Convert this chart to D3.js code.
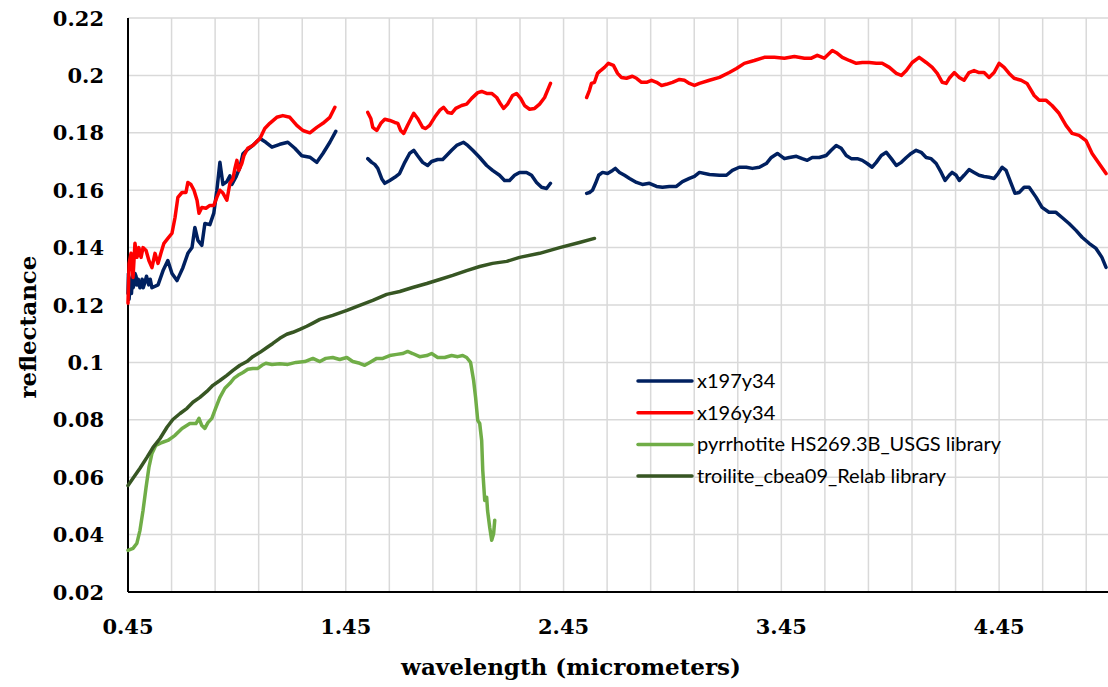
<!DOCTYPE html>
<html>
<head>
<meta charset="utf-8">
<script src="https://cdn.jsdelivr.net/npm/d3@7/dist/d3.min.js"></script>
<style>
  body { margin: 0; background: #fff; }
  .tick-label { font-family: "DejaVu Serif", serif; font-weight: bold; font-size: 21px; fill: #000; }
  .axis-title { font-family: "DejaVu Serif", serif; font-weight: bold; font-size: 23px; fill: #000; }
  .legend-text { font-family: Lato, "Open Sans", sans-serif; font-size: 20px; fill: #000; }
</style>
</head>
<body>
<div class="chart"></div>
<script>
// wavelength (micrometers), reflectance -- each series is split where the spectrum has gaps
var x197y34 = [
  [[0.450,0.124],[0.452,0.131],[0.455,0.122],[0.459,0.1275],[0.462,0.129],[0.466,0.124],[0.470,0.130],[0.473,0.126],
   [0.478,0.127],[0.482,0.131],[0.487,0.130],[0.492,0.127],[0.497,0.129],[0.505,0.126],[0.510,0.127],[0.515,0.129],
   [0.520,0.126],[0.528,0.128],[0.535,0.130],[0.545,0.127],[0.552,0.129],[0.560,0.126],[0.588,0.127],[0.611,0.132],
   [0.633,0.1355],[0.652,0.131],[0.675,0.1285],[0.702,0.133],[0.725,0.138],[0.744,0.140],[0.757,0.147],[0.771,0.1425],
   [0.789,0.1408],[0.803,0.1484],[0.826,0.148],[0.844,0.152],[0.858,0.160],[0.872,0.1697],[0.886,0.162],[0.904,0.163],
   [0.918,0.165],[0.927,0.162],[0.945,0.1645],[0.964,0.168],[0.978,0.1727],[0.996,0.174],[1.023,0.1756],[1.056,0.178],
   [1.083,0.1767],[1.111,0.175],[1.147,0.176],[1.184,0.1767],[1.216,0.1746],[1.248,0.172],[1.285,0.1715],[1.317,0.1697],
   [1.345,0.1728],[1.377,0.1767],[1.404,0.1805]],
  [[1.551,0.171],[1.569,0.1697],[1.583,0.169],[1.597,0.1676],[1.615,0.164],[1.629,0.1624],[1.652,0.1634],[1.675,0.1645],
   [1.697,0.1658],[1.721,0.1697],[1.743,0.1728],[1.762,0.1739],[1.780,0.172],[1.803,0.1697],[1.826,0.1686],[1.844,0.170],
   [1.872,0.1707],[1.895,0.1707],[1.913,0.1721],[1.936,0.1739],[1.959,0.1756],[1.991,0.1767],[2.010,0.1756],[2.033,0.1739],
   [2.065,0.1714],[2.097,0.1686],[2.124,0.1669],[2.156,0.1652],[2.179,0.1634],[2.202,0.1634],[2.225,0.1652],[2.248,0.1662],
   [2.280,0.1662],[2.303,0.1652],[2.326,0.1627],[2.349,0.161],[2.372,0.1606],[2.390,0.1624]],
  [[2.556,0.1589],[2.569,0.1592],[2.583,0.160],[2.597,0.1624],[2.611,0.1652],[2.629,0.1662],[2.652,0.1658],[2.675,0.1669],
   [2.688,0.1676],[2.707,0.1662],[2.730,0.1652],[2.753,0.1641],[2.785,0.1627],[2.812,0.162],[2.844,0.1624],[2.877,0.1613],
   [2.904,0.161],[2.936,0.1613],[2.968,0.1613],[2.996,0.163],[3.028,0.1641],[3.051,0.1648],[3.074,0.1662],[3.120,0.1655],
   [3.166,0.1652],[3.198,0.1652],[3.225,0.1669],[3.257,0.168],[3.289,0.168],[3.317,0.1676],[3.349,0.168],[3.381,0.1693],
   [3.404,0.1714],[3.432,0.1728],[3.464,0.171],[3.487,0.1714],[3.519,0.1718],[3.546,0.171],[3.569,0.1704],[3.592,0.1714],
   [3.624,0.1714],[3.656,0.1721],[3.679,0.1739],[3.702,0.1756],[3.725,0.1746],[3.748,0.1721],[3.771,0.171],[3.799,0.171],
   [3.822,0.1704],[3.844,0.1693],[3.867,0.168],[3.886,0.1697],[3.909,0.1721],[3.932,0.1732],[3.955,0.171],[3.978,0.1686],
   [4.001,0.1697],[4.024,0.1714],[4.046,0.1728],[4.069,0.1739],[4.092,0.1732],[4.115,0.1714],[4.138,0.171],[4.161,0.1693],
   [4.184,0.1662],[4.202,0.1634],[4.221,0.1652],[4.234,0.1662],[4.253,0.1652],[4.267,0.1634],[4.289,0.1652],[4.312,0.1672],
   [4.335,0.1662],[4.358,0.1652],[4.381,0.1648],[4.404,0.1645],[4.427,0.1641],[4.445,0.1658],[4.464,0.168],[4.482,0.1669],
   [4.505,0.1624],[4.523,0.1589],[4.542,0.1592],[4.565,0.161],[4.588,0.161],[4.620,0.1575],[4.647,0.154],[4.679,0.1523],
   [4.711,0.1523],[4.739,0.1505],[4.771,0.1484],[4.803,0.146],[4.831,0.1436],[4.863,0.1415],[4.895,0.1397],[4.922,0.1366],
   [4.941,0.1331]]
];

var x196y34 = [
  [[0.450,0.1206],[0.455,0.1345],[0.464,0.138],[0.473,0.1296],[0.482,0.1415],[0.491,0.1366],[0.500,0.140],[0.510,0.1366],
   [0.519,0.140],[0.533,0.139],[0.546,0.1355],[0.560,0.133],[0.574,0.138],[0.588,0.1345],[0.601,0.138],[0.615,0.1415],
   [0.633,0.1432],[0.652,0.145],[0.666,0.1505],[0.679,0.1575],[0.698,0.1592],[0.716,0.1592],[0.725,0.1627],[0.739,0.162],
   [0.753,0.160],[0.767,0.1565],[0.776,0.152],[0.789,0.154],[0.808,0.1537],[0.826,0.1547],[0.844,0.1547],[0.858,0.1575],
   [0.872,0.160],[0.886,0.159],[0.904,0.1565],[0.918,0.1624],[0.932,0.164],[0.941,0.1676],[0.950,0.1704],[0.959,0.1669],
   [0.973,0.1694],[0.982,0.172],[1.000,0.1746],[1.023,0.1756],[1.056,0.178],[1.078,0.1815],[1.101,0.1833],[1.133,0.1854],
   [1.161,0.186],[1.193,0.1854],[1.225,0.1826],[1.253,0.1808],[1.285,0.180],[1.317,0.1819],[1.345,0.1833],[1.377,0.1854],
   [1.400,0.1889]],
  [[1.551,0.1871],[1.565,0.185],[1.574,0.1819],[1.592,0.1808],[1.611,0.1833],[1.629,0.1847],[1.652,0.1843],[1.675,0.1836],
   [1.689,0.1833],[1.702,0.1808],[1.716,0.1798],[1.734,0.1826],[1.762,0.1868],[1.780,0.185],[1.803,0.1819],[1.817,0.1815],
   [1.835,0.1826],[1.858,0.1854],[1.881,0.1878],[1.899,0.1889],[1.918,0.1871],[1.936,0.1868],[1.955,0.1885],[1.982,0.1895],
   [2.005,0.190],[2.028,0.192],[2.056,0.194],[2.074,0.1944],[2.097,0.1937],[2.120,0.1937],[2.143,0.1923],[2.161,0.190],
   [2.175,0.1885],[2.193,0.190],[2.216,0.193],[2.234,0.1937],[2.253,0.192],[2.271,0.1895],[2.294,0.1882],[2.317,0.1885],
   [2.340,0.190],[2.363,0.1923],[2.390,0.1972]],
  [[2.556,0.1923],[2.569,0.1948],[2.578,0.1972],[2.592,0.1976],[2.606,0.2007],[2.620,0.2017],[2.638,0.2028],[2.656,0.2042],
   [2.679,0.2035],[2.698,0.2007],[2.716,0.1993],[2.739,0.199],[2.766,0.1997],[2.785,0.199],[2.808,0.1976],[2.831,0.1976],
   [2.854,0.1983],[2.877,0.1976],[2.900,0.1965],[2.922,0.1969],[2.950,0.1976],[2.982,0.1986],[3.005,0.1983],[3.028,0.1972],
   [3.051,0.1965],[3.074,0.1972],[3.120,0.1983],[3.166,0.1993],[3.211,0.201],[3.244,0.2024],[3.280,0.2042],[3.326,0.2052],
   [3.372,0.2063],[3.418,0.2063],[3.464,0.206],[3.510,0.2066],[3.556,0.206],[3.588,0.206],[3.615,0.207],[3.647,0.206],
   [3.684,0.2087],[3.707,0.2077],[3.730,0.2063],[3.762,0.2052],[3.794,0.2042],[3.822,0.2045],[3.854,0.2045],[3.886,0.2042],
   [3.913,0.2042],[3.946,0.2028],[3.978,0.2007],[4.001,0.200],[4.024,0.2017],[4.051,0.2045],[4.083,0.2063],[4.115,0.2045],
   [4.143,0.2028],[4.166,0.2007],[4.189,0.1976],[4.207,0.1972],[4.221,0.199],[4.244,0.201],[4.267,0.1993],[4.289,0.1983],
   [4.312,0.201],[4.335,0.2017],[4.358,0.201],[4.381,0.201],[4.404,0.1993],[4.427,0.201],[4.450,0.2042],[4.473,0.2028],
   [4.496,0.2007],[4.519,0.199],[4.551,0.1983],[4.578,0.1972],[4.611,0.193],[4.634,0.1913],[4.666,0.1913],[4.693,0.1895],
   [4.725,0.1868],[4.757,0.1826],[4.785,0.1798],[4.817,0.1791],[4.849,0.1773],[4.877,0.1728],[4.909,0.1693],[4.941,0.1658]]
];

var pyrrhotite = [
  [[0.450,0.0345],[0.473,0.0352],[0.491,0.037],[0.505,0.0415],[0.519,0.0484],[0.533,0.0565],[0.546,0.0634],[0.560,0.0683],
   [0.578,0.0711],[0.606,0.0721],[0.633,0.0728],[0.666,0.0746],[0.698,0.077],[0.734,0.0787],[0.762,0.0787],[0.776,0.0805],
   [0.789,0.078],[0.803,0.077],[0.817,0.079],[0.835,0.0805],[0.854,0.0843],[0.872,0.0878],[0.895,0.091],[0.918,0.0927],
   [0.936,0.0944],[0.955,0.0955],[0.978,0.0965],[1.000,0.0976],[1.023,0.0979],[1.046,0.0979],[1.065,0.099],[1.083,0.0997],
   [1.111,0.0993],[1.147,0.0995],[1.184,0.0993],[1.221,0.1],[1.262,0.1003],[1.299,0.1014],[1.331,0.1003],[1.358,0.1014],
   [1.390,0.1017],[1.422,0.101],[1.455,0.1017],[1.482,0.1003],[1.514,0.0997],[1.537,0.099],[1.560,0.1],[1.592,0.1014],
   [1.620,0.1014],[1.652,0.1024],[1.684,0.1028],[1.711,0.1031],[1.734,0.1038],[1.757,0.1031],[1.789,0.102],[1.822,0.1024],
   [1.844,0.1031],[1.872,0.1017],[1.904,0.1017],[1.936,0.1024],[1.964,0.102],[1.987,0.1024],[2.005,0.1017],[2.023,0.1],
   [2.037,0.0937],[2.046,0.0878],[2.056,0.0798],[2.065,0.0787],[2.074,0.0728],[2.079,0.0624],[2.088,0.0519],[2.097,0.053],
   [2.101,0.0484],[2.111,0.0425],[2.120,0.038],[2.129,0.0404],[2.134,0.045]]
];

var troilite = [
  [[0.450,0.0571],[0.473,0.0596],[0.505,0.0631],[0.537,0.0669],[0.565,0.0704],[0.597,0.0735],[0.629,0.0774],[0.656,0.0801],
   [0.689,0.0822],[0.721,0.084],[0.748,0.0861],[0.780,0.0878],[0.812,0.0899],[0.840,0.092],[0.872,0.0937],[0.904,0.0955],
   [0.932,0.0972],[0.964,0.099],[0.996,0.1003],[1.023,0.102],[1.056,0.1035],[1.088,0.1052],[1.115,0.1066],[1.147,0.1084],
   [1.179,0.1098],[1.207,0.1105],[1.239,0.1115],[1.271,0.1126],[1.299,0.1137],[1.331,0.115],[1.390,0.1164],[1.455,0.1181],
   [1.514,0.1199],[1.574,0.1216],[1.638,0.1237],[1.698,0.1247],[1.757,0.1261],[1.822,0.1275],[1.881,0.1289],[1.941,0.1303],
   [2.005,0.132],[2.065,0.1334],[2.124,0.1345],[2.189,0.1352],[2.248,0.1366],[2.340,0.138],[2.432,0.140],[2.523,0.1418],
   [2.592,0.1432]]
];

var seriesNames = ["x197y34", "x196y34", "pyrrhotite HS269.3B_USGS library", "troilite_cbea09_Relab library"];
var seriesColors = ["#002060", "#ff0000", "#70ad47", "#375623"];
var seriesData = [x197y34, x196y34, pyrrhotite, troilite];

var xTicks = [0.45, 1.45, 2.45, 3.45, 4.45];
var xGrid = d3.range(0, 23).map(function(i) { return +(0.45 + i * 0.2).toFixed(2); });
var yTicks = d3.range(1, 12).map(function(i) { return +(i * 0.02).toFixed(2); });

var svgWidth = 1108;
var svgHeight = 687;
var margin = { top: 18, right: 0, bottom: 95, left: 128 };
var width = svgWidth - margin.left - margin.right;
var height = svgHeight - margin.top - margin.bottom;

var svg = d3.select(".chart")
  .append("svg")
  .attr("width", svgWidth)
  .attr("height", svgHeight);

var chart = svg.append("g")
  .attr("transform", "translate(" + margin.left + "," + margin.top + ")");

var xScale = d3.scaleLinear().domain([0.45, 4.95]).range([0, width]);
var yScale = d3.scaleLinear().domain([0.02, 0.22]).range([height, 0]);

// gridlines
chart.append("g").selectAll("line.vgrid")
  .data(xGrid)
  .enter()
  .append("line")
  .attr("x1", function(d) { return xScale(d); })
  .attr("x2", function(d) { return xScale(d); })
  .attr("y1", 0)
  .attr("y2", height)
  .attr("stroke", "#d9d9d9")
  .attr("stroke-width", 1.5);

chart.append("g").selectAll("line.hgrid")
  .data(yTicks)
  .enter()
  .append("line")
  .attr("x1", 0)
  .attr("x2", width)
  .attr("y1", function(d) { return yScale(d); })
  .attr("y2", function(d) { return yScale(d); })
  .attr("stroke", "#d9d9d9")
  .attr("stroke-width", 1.5);

// axes lines
chart.append("line")
  .attr("x1", 0).attr("x2", 0)
  .attr("y1", 0).attr("y2", height)
  .attr("stroke", "#000").attr("stroke-width", 2);

chart.append("line")
  .attr("x1", 0).attr("x2", width)
  .attr("y1", height).attr("y2", height)
  .attr("stroke", "#000").attr("stroke-width", 2);

// tick labels
chart.append("g").selectAll("text")
  .data(yTicks)
  .enter()
  .append("text")
  .attr("class", "tick-label")
  .attr("x", -24)
  .attr("y", function(d) { return yScale(d); })
  .attr("dy", "0.36em")
  .attr("text-anchor", "end")
  .text(function(d) { return String(d); });

chart.append("g").selectAll("text")
  .data(xTicks)
  .enter()
  .append("text")
  .attr("class", "tick-label")
  .attr("x", function(d) { return xScale(d); })
  .attr("y", height + 42)
  .attr("text-anchor", "middle")
  .text(function(d) { return d.toFixed(2); });

// series
var line = d3.line()
  .x(function(d) { return xScale(d[0]); })
  .y(function(d) { return yScale(d[1]); });

seriesData.forEach(function(segments, i) {
  chart.append("g").selectAll("path")
    .data(segments)
    .enter()
    .append("path")
    .attr("d", line)
    .attr("fill", "none")
    .attr("stroke", seriesColors[i])
    .attr("stroke-width", 3.5)
    .attr("stroke-linejoin", "round")
    .attr("stroke-linecap", "round");
});

// axis titles
svg.append("text")
  .attr("class", "axis-title")
  .attr("transform", "translate(36,327) rotate(-90)")
  .attr("text-anchor", "middle")
  .text("reflectance");

svg.append("text")
  .attr("class", "axis-title")
  .attr("x", 571)
  .attr("y", 675)
  .attr("text-anchor", "middle")
  .text("wavelength (micrometers)");

// legend
var legend = svg.append("g")
  .attr("transform", "translate(638,381)");

var rows = legend.selectAll("g")
  .data(seriesNames)
  .enter()
  .append("g")
  .attr("transform", function(d, i) { return "translate(0," + (i * 31.7) + ")"; });

rows.append("line")
  .attr("x1", 0).attr("x2", 54)
  .attr("y1", 0).attr("y2", 0)
  .attr("stroke", function(d, i) { return seriesColors[i]; })
  .attr("stroke-width", 3.5)
  .attr("stroke-linecap", "round");

rows.append("text")
  .attr("class", "legend-text")
  .attr("x", 59)
  .attr("y", 0)
  .attr("dy", "0.35em")
  .text(function(d) { return d; });
</script>
</body>
</html>
